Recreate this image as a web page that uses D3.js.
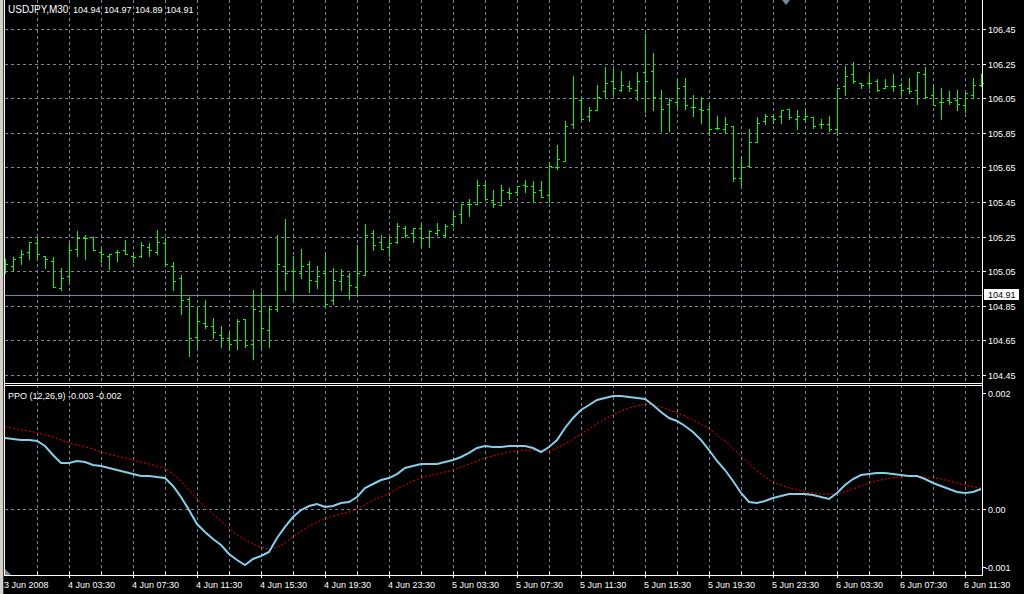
<!DOCTYPE html>
<html><head><meta charset="utf-8">
<script src="https://cdn.jsdelivr.net/npm/d3@7"></script>
<style>html,body{margin:0;padding:0;background:#000;overflow:hidden}svg{display:block}</style>
</head><body>
<script>
// ---------- DATA ----------
const symbolTitle = "USDJPY,M30";
const titleValues = ["104.94", "104.97", "104.89", "104.91"];
const indicatorTitle = "PPO (12,26,9) -0.003 -0.002";
const lastPrice = 104.91;

const open = [
105.08,105.08,105.13,105.16,105.21,105.14,105.11,104.95,105.02,105.18,
105.24,105.25,105.16,105.14,105.16,105.17,105.14,105.14,105.19,105.16,
105.21,105.08,105.01,104.89,104.67,104.75,104.73,104.68,104.66,104.65,
104.77,104.63,104.82,104.71,104.83,105.08,105.05,105.04,105.09,104.99,
105.04,104.88,104.99,105.02,104.96,105.03,105.27,105.22,105.19,105.22,
105.30,105.27,105.30,105.25,105.27,105.26,105.32,105.38,105.44,105.44,
105.55,105.46,105.43,105.51,105.51,105.55,105.54,105.52,105.49,105.65,
105.69,105.90,106.04,105.95,105.98,106.09,106.15,106.10,106.12,106.10,
106.20,106.21,106.05,106.02,106.03,106.12,106.00,105.99,105.99,105.88,
105.87,105.89,105.59,105.66,105.80,105.92,105.95,105.95,105.99,105.93,
105.93,105.94,105.90,105.90,105.87,106.12,106.19,106.14,106.14,106.15,
106.11,106.12,106.13,106.11,106.10,106.19,106.07,106.03,106.04,106.04,
106.01,106.07,106.13];
const high = [
105.12,105.13,105.17,105.22,105.24,105.14,105.13,105.07,105.21,105.28,
105.26,105.25,105.18,105.15,105.17,105.23,105.15,105.22,105.21,105.29,
105.24,105.10,105.03,104.90,104.84,104.88,104.78,104.73,104.70,104.77,
104.77,104.94,104.93,104.85,105.26,105.35,105.14,105.18,105.11,105.08,
105.15,105.07,105.06,105.04,105.20,105.32,105.29,105.26,105.25,105.33,
105.31,105.30,105.32,105.29,105.33,105.32,105.40,105.44,105.47,105.58,
105.56,105.52,105.55,105.53,105.54,105.58,105.57,105.57,105.68,105.78,
105.92,106.18,106.05,106.00,106.13,106.23,106.22,106.21,106.15,106.20,
106.42,106.31,106.10,106.05,106.16,106.17,106.07,106.06,106.02,105.95,
105.94,105.89,105.71,105.87,105.94,105.96,105.96,105.98,105.99,105.98,
105.98,105.94,105.93,105.95,106.11,106.24,106.26,106.14,106.19,106.16,
106.16,106.19,106.14,106.17,106.20,106.23,106.12,106.11,106.09,106.10,
106.08,106.17,106.19];
const low = [
105.04,105.05,105.09,105.12,105.12,105.07,104.96,104.94,104.99,105.14,
105.12,105.17,105.10,105.06,105.11,105.15,105.10,105.13,105.14,105.15,
105.08,104.94,104.80,104.56,104.61,104.72,104.66,104.61,104.60,104.60,
104.61,104.54,104.61,104.61,104.82,104.94,104.89,105.01,104.93,104.95,
104.85,104.86,104.94,104.89,104.92,105.03,105.17,105.18,105.14,105.21,
105.25,105.22,105.19,105.19,105.26,105.25,105.31,105.33,105.37,105.44,
105.47,105.42,105.43,105.47,105.49,105.51,105.45,105.48,105.45,105.64,
105.69,105.88,105.93,105.92,105.98,106.05,106.07,106.09,106.09,106.04,
105.97,105.98,105.86,105.86,106.00,105.99,105.95,105.91,105.84,105.87,
105.85,105.57,105.55,105.65,105.80,105.90,105.91,105.91,105.93,105.87,
105.92,105.88,105.88,105.86,105.84,106.07,106.14,106.11,106.11,106.09,
106.11,106.09,106.07,106.08,106.02,106.05,106.01,105.93,106.02,105.98,
105.97,106.05,106.12];
const close = [
105.09,105.12,105.15,105.22,105.15,105.12,104.96,105.01,105.17,105.24,
105.24,105.17,105.15,105.15,105.16,105.15,105.13,105.20,105.17,105.22,
105.09,104.99,104.88,104.66,104.76,104.73,104.70,104.66,104.63,104.76,
104.62,104.83,104.72,104.83,105.09,105.04,105.05,105.08,105.00,105.02,
104.86,105.00,105.03,104.97,105.04,105.26,105.20,105.18,105.21,105.31,
105.26,105.30,105.24,105.28,105.29,105.31,105.37,105.44,105.44,105.55,
105.47,105.44,105.52,105.50,105.54,105.54,105.51,105.48,105.66,105.70,
105.89,106.05,105.93,105.98,106.06,106.14,106.11,106.13,106.11,106.15,
106.15,106.06,105.99,106.04,106.11,106.01,106.00,105.98,105.87,105.88,
105.90,105.59,105.65,105.80,105.91,105.95,105.93,105.98,105.94,105.95,
105.95,105.89,105.90,105.87,106.11,106.18,106.15,106.13,106.14,106.10,
106.12,106.12,106.10,106.09,106.20,106.06,106.01,106.03,106.03,106.02,
106.08,106.13,106.14];

const ppoMain = [
0.001224,0.001207,0.001190,0.001190,0.001172,0.001086,0.000931,0.000793,0.000793,0.000828,
0.000810,0.000759,0.000741,0.000707,0.000672,0.000638,0.000603,0.000569,0.000569,0.000552,
0.000534,0.000397,0.000207,-0.000017,-0.000259,-0.000397,-0.000517,-0.000621,-0.000776,-0.000879,
-0.000966,-0.000862,-0.000810,-0.000741,-0.000500,-0.000310,-0.000138,-0.000017,0.000052,0.000086,
0.000034,0.000052,0.000103,0.000121,0.000207,0.000362,0.000431,0.000500,0.000534,0.000603,
0.000707,0.000741,0.000776,0.000776,0.000776,0.000810,0.000845,0.000897,0.000966,0.001052,
0.001086,0.001069,0.001069,0.001086,0.001086,0.001086,0.001052,0.000983,0.001069,0.001190,
0.001397,0.001569,0.001707,0.001793,0.001879,0.001914,0.001948,0.001948,0.001931,0.001914,
0.001897,0.001793,0.001672,0.001569,0.001517,0.001431,0.001328,0.001190,0.001017,0.000828,
0.000672,0.000483,0.000276,0.000121,0.000103,0.000138,0.000190,0.000224,0.000259,0.000259,
0.000259,0.000241,0.000207,0.000172,0.000276,0.000414,0.000517,0.000586,0.000603,0.000621,
0.000621,0.000603,0.000586,0.000569,0.000569,0.000517,0.000448,0.000397,0.000345,0.000293,
0.000276,0.000293,0.000345];
const ppoSignal = [
0.001414,0.001397,0.001362,0.001345,0.001310,0.001276,0.001241,0.001190,0.001138,0.001103,
0.001069,0.001034,0.000983,0.000948,0.000914,0.000879,0.000845,0.000810,0.000776,0.000741,
0.000707,0.000603,0.000483,0.000328,0.000172,0.000034,-0.000086,-0.000207,-0.000328,-0.000448,
-0.000534,-0.000603,-0.000655,-0.000690,-0.000655,-0.000586,-0.000483,-0.000379,-0.000293,-0.000224,
-0.000172,-0.000121,-0.000086,-0.000052,0.000000,0.000069,0.000155,0.000207,0.000276,0.000345,
0.000414,0.000483,0.000534,0.000569,0.000603,0.000638,0.000672,0.000724,0.000776,0.000828,
0.000879,0.000914,0.000948,0.000983,0.001000,0.001017,0.001017,0.001000,0.001000,0.001052,
0.001121,0.001207,0.001293,0.001379,0.001466,0.001552,0.001621,0.001690,0.001741,0.001776,
0.001810,0.001793,0.001759,0.001707,0.001655,0.001603,0.001534,0.001466,0.001379,0.001276,
0.001172,0.001052,0.000914,0.000793,0.000655,0.000552,0.000466,0.000414,0.000362,0.000328,
0.000293,0.000276,0.000259,0.000259,0.000259,0.000293,0.000345,0.000397,0.000448,0.000483,
0.000517,0.000534,0.000552,0.000569,0.000569,0.000552,0.000534,0.000517,0.000483,0.000448,
0.000414,0.000379,0.000362];

const timeTickBars = [0,8,16,24,32,40,48,56,64,72,80,88,96,104,112,120];
const timeTickLabels = ["3 Jun 2008","4 Jun 03:30","4 Jun 07:30","4 Jun 11:30","4 Jun 15:30",
  "4 Jun 19:30","4 Jun 23:30","5 Jun 03:30","5 Jun 07:30","5 Jun 11:30","5 Jun 15:30",
  "5 Jun 19:30","5 Jun 23:30","6 Jun 03:30","6 Jun 07:30","6 Jun 11:30"];
const priceTicks = [106.45,106.25,106.05,105.85,105.65,105.45,105.25,105.05,104.85,104.65,104.45];
const ppoTicks = [0.002, 0, -0.001];
const ppoTickLabels = ["0.002", "0.00", "-0.001"];

// ---------- LAYOUT ----------
const W = 1024, H = 594;
const FONT = "'Liberation Sans', Arial, sans-serif";
const GRID = "#778899";
const n = open.length;
const left = 4, right = 982, upTop = 0, upBottom = 383, loTop = 385, loBottom = 575;

const svg = d3.select("body").append("svg").attr("width", W).attr("height", H);
svg.append("rect").attr("width", W).attr("height", H).attr("fill", "#000");

const x = d3.scaleLinear().domain([0, n - 1]).range([5, 5 + 8 * (n - 1)]);
const yP = d3.scaleLinear().domain([104.45, 106.45]).range([374.7, 29.3]);
const yI = d3.scaleLinear().domain([-0.001, 0.002]).range([567, 393]);

const px = v => Math.round(v);

// vertical grid
const gridBars = d3.range(4, n, 4);
const g = svg.append("g").attr("shape-rendering", "crispEdges");
gridBars.forEach(b => {
  const xx = px(x(b)) + 0.5;
  g.append("line").attr("x1", xx).attr("x2", xx).attr("y1", upTop).attr("y2", upBottom)
    .attr("stroke", GRID).attr("stroke-dasharray", "3,3");
  g.append("line").attr("x1", xx).attr("x2", xx).attr("y1", loTop).attr("y2", loBottom)
    .attr("stroke", GRID).attr("stroke-dasharray", "3,3");
});
// horizontal grid (price)
priceTicks.forEach(p => {
  const yy = px(yP(p)) + 0.5;
  g.append("line").attr("x1", left + 1).attr("x2", right).attr("y1", yy).attr("y2", yy)
    .attr("stroke", GRID).attr("stroke-dasharray", "3,3");
});
// zero line of indicator
{
  const yy = px(yI(0)) + 0.5;
  g.append("line").attr("x1", left + 1).attr("x2", right).attr("y1", yy).attr("y2", yy)
    .attr("stroke", GRID).attr("stroke-dasharray", "3,3");
}
// last price line
{
  const yy = px(yP(lastPrice)) + 0.5;
  g.append("line").attr("x1", left + 1).attr("x2", right).attr("y1", yy).attr("y2", yy)
    .attr("stroke", GRID);
}

// OHLC bars
const bars = svg.append("g").attr("shape-rendering", "crispEdges").attr("fill", "#00ff00");
d3.range(n).forEach(i => {
  const xi = px(x(i));
  const yh = px(yP(high[i])), yl = px(yP(low[i]));
  bars.append("rect").attr("x", xi).attr("y", yh).attr("width", 1).attr("height", Math.max(1, yl - yh + 1));
  bars.append("rect").attr("x", xi - 2).attr("y", px(yP(open[i]))).attr("width", 2).attr("height", 1);
  bars.append("rect").attr("x", xi + 1).attr("y", px(yP(close[i]))).attr("width", 2).attr("height", 1);
});

// PPO lines
const line = d3.line().x((d, i) => x(i)).y(d => yI(d));
svg.append("path").datum(ppoSignal).attr("d", line).attr("fill", "none")
  .attr("stroke", "#ff0000").attr("stroke-width", 1).attr("stroke-dasharray", "2,2");
svg.append("path").datum(ppoMain).attr("d", line).attr("fill", "none")
  .attr("stroke", "#87ceeb").attr("stroke-width", 2);

// frames
const f = svg.append("g").attr("shape-rendering", "crispEdges").attr("stroke", "#fff");
f.append("line").attr("x1", left + 0.5).attr("x2", left + 0.5).attr("y1", 0).attr("y2", loBottom);
f.append("line").attr("x1", right + 0.5).attr("x2", right + 0.5).attr("y1", 0).attr("y2", loBottom + 1);
f.append("line").attr("x1", left).attr("x2", right + 1).attr("y1", upBottom + 0.5).attr("y2", upBottom + 0.5);
f.append("line").attr("x1", left).attr("x2", right + 1).attr("y1", loTop + 0.5).attr("y2", loTop + 0.5);
f.append("line").attr("x1", left).attr("x2", right + 1).attr("y1", loBottom + 0.5).attr("y2", loBottom + 0.5);

// window edge on the left
svg.append("rect").attr("x", 0).attr("y", 0).attr("width", 3).attr("height", H).attr("fill", "#d4d0c8");
svg.append("rect").attr("x", 3).attr("y", 0).attr("width", 1).attr("height", H).attr("fill", "#404040");

// price axis ticks + labels
const txt = svg.append("g").attr("font-family", FONT).attr("font-size", 9).attr("fill", "#fff");
priceTicks.forEach(p => {
  const yy = px(yP(p)) + 0.5;
  f.append("line").attr("x1", right).attr("x2", right + 4).attr("y1", yy).attr("y2", yy);
  txt.append("text").attr("x", 988).attr("y", yy + 3.5).text(p.toFixed(2));
});
ppoTicks.forEach((v, k) => {
  const yy = px(yI(v)) + 0.5;
  f.append("line").attr("x1", right).attr("x2", right + 4).attr("y1", yy).attr("y2", yy);
  txt.append("text").attr("x", v < 0 ? 985 : 988).attr("y", yy + 3.5).text(ppoTickLabels[k]);
});

// last price box
{
  const yy = px(yP(lastPrice));
  svg.append("rect").attr("x", 984).attr("y", yy - 6).attr("width", 35).attr("height", 11)
    .attr("fill", "#fff").attr("shape-rendering", "crispEdges");
  svg.append("text").attr("x", 988).attr("y", yy + 3).attr("font-family", FONT)
    .attr("font-size", 9).attr("fill", "#000").text(lastPrice.toFixed(2));
}

// time axis ticks and labels
d3.range(4, n, 8).forEach(b => {
  const xx = px(x(b)) + 0.5;
  f.append("line").attr("x1", xx).attr("x2", xx).attr("y1", 572).attr("y2", 576);
});
timeTickBars.forEach((b, k) => {
  const xx = px(x(b)) + 0.5;
  if (b > 0) f.append("line").attr("x1", xx).attr("x2", xx).attr("y1", 572).attr("y2", 578);
  txt.append("text").attr("x", xx - 1.5).attr("y", 588).text(timeTickLabels[k]);
});

// titles
txt.append("text").attr("x", 8).attr("y", 13).attr("font-size", 10).text(symbolTitle);
const tvx = [73, 104, 135, 166];
titleValues.forEach((t, k) => txt.append("text").attr("x", tvx[k]).attr("y", 13).text(t));
txt.append("text").attr("x", 8).attr("y", 399).text(indicatorTitle);

// small markers
svg.append("polygon").attr("points", "5,569 5,575 11,575").attr("fill", GRID);
svg.append("polygon").attr("points", "782,0 790,0 786,5").attr("fill", GRID);
</script>
</body></html>
